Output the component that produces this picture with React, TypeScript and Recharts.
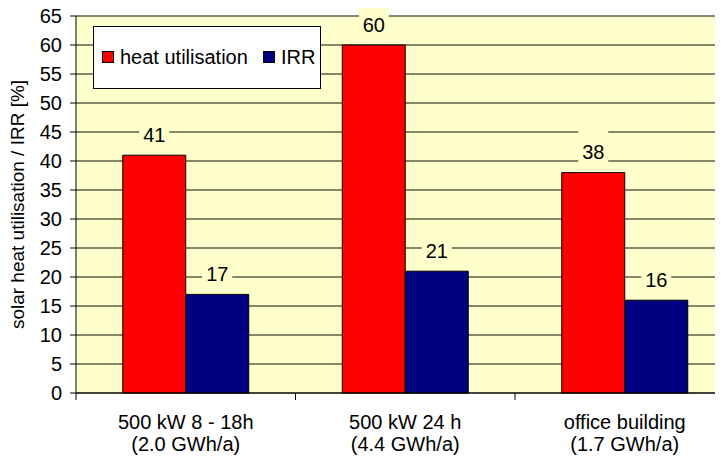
import React from 'react';
import { BarChart, Bar, XAxis, YAxis, CartesianGrid, LabelList } from 'recharts';

const categories = ['500 kW 8 - 18h\n(2.0 GWh/a)', '500 kW 24 h\n(4.4 GWh/a)', 'office building\n(1.7 GWh/a)'];
const heatUtilisation = [41, 60, 38];
const irr = [17, 21, 16];
const seriesNames = ['heat utilisation', 'IRR'];
const seriesColors = ['#FF0000', '#000080'];
const yTicks = [0, 5, 10, 15, 20, 25, 30, 35, 40, 45, 50, 55, 60, 65];
const yLabel = 'solar heat utilisation / IRR [%]';

const data = categories.map((c, i) => ({ name: c, heat: heatUtilisation[i], irr: irr[i] }));

const W = 750;
const H = 457;
const M = { top: 16, right: 15.5, bottom: 0, left: 0 };
const YAXIS_W = 76;
const XAXIS_H = 64;
const PLOT_W = W - M.left - M.right - YAXIS_W;
const BAND = PLOT_W / categories.length;
const FONT = 'Arial, "Liberation Sans", sans-serif';
const PLOT_BG = '#FFFFCC';

const XTick = (props: any) => {
  const { x, y, payload, index } = props;
  const lines = String(payload.value).split('\n');
  const half = BAND / 2;
  return (
    <g>
      {lines.map((l, i) => (
        <text key={i} x={x} y={y + 36 + 22 * i} textAnchor="middle" fontSize={20} fontFamily={FONT} fill="#000">
          {l}
        </text>
      ))}
      <line x1={x - half} x2={x - half} y1={y} y2={y + 7} stroke="#000" strokeWidth={1} />
      {index === categories.length - 1 && (
        <line x1={x + half} x2={x + half} y1={y} y2={y + 7} stroke="#000" strokeWidth={1} />
      )}
    </g>
  );
};

const YLabel = (props: any) => {
  const vb = props.viewBox || { x: 0, y: 0, width: 0, height: 0 };
  const cx = vb.x + 17;
  const cy = vb.y + vb.height / 2;
  return (
    <text x={cx} y={cy} transform={`rotate(-90 ${cx} ${cy})`} textAnchor="middle" dy="0.35em" fontSize={19} fontFamily={FONT} fill="#000">
      {yLabel}
    </text>
  );
};

const BarLabel = (props: any) => {
  const { x, y, width, value } = props;
  const cx = Number(x) + Number(width) / 2;
  const cy = Number(y) - 20.5;
  return (
    <g>
      <rect x={cx - 15} y={cy - 22} width={30} height={34} fill={PLOT_BG} />
      <text x={cx} y={cy} dy="0.35em" textAnchor="middle" fontSize={20} fontFamily={FONT} fill="#000">
        {value}
      </text>
    </g>
  );
};

export default function App() {
  return (
    <div style={{ position: 'relative', margin: '-8px 0 0 -8px', width: 723, height: 457, overflow: 'hidden', background: '#fff' }}>
      <BarChart width={W} height={H} data={data} margin={M} barCategoryGap="21.3%" barGap={0}>
        <CartesianGrid horizontal vertical={false} stroke="#5e5e48" strokeWidth={1.3} fill={PLOT_BG} fillOpacity={1} />
        <XAxis
          dataKey="name"
          height={XAXIS_H}
          interval={0}
          tickLine={false}
          tickSize={0}
          tickMargin={0}
          axisLine={{ stroke: '#000', strokeWidth: 1 }}
          tick={<XTick />}
        />
        <YAxis
          width={YAXIS_W}
          domain={[0, 65]}
          ticks={yTicks}
          interval={0}
          tickSize={6}
          tickMargin={8}
          axisLine={{ stroke: '#000', strokeWidth: 1 }}
          tickLine={{ stroke: '#000', strokeWidth: 1 }}
          tick={{ fontSize: 20, fontFamily: FONT, fill: '#000' }}
          label={<YLabel />}
        />
        <Bar dataKey="heat" name={seriesNames[0]} fill={seriesColors[0]} stroke="#000" strokeWidth={1} isAnimationActive={false}>
          <LabelList dataKey="heat" content={<BarLabel />} />
        </Bar>
        <Bar dataKey="irr" name={seriesNames[1]} fill={seriesColors[1]} stroke="#000" strokeWidth={1} isAnimationActive={false}>
          <LabelList dataKey="irr" content={<BarLabel />} />
        </Bar>
      </BarChart>
      <div
        style={{
          position: 'absolute',
          left: 93,
          top: 25.5,
          width: 228,
          height: 63,
          boxSizing: 'border-box',
          border: '1px solid #000',
          background: '#fff',
          display: 'flex',
          alignItems: 'center',
          fontFamily: FONT,
          fontSize: 20,
          color: '#000',
        }}
      >
        {seriesNames.map((n, i) => (
          <div key={n} style={{ display: 'flex', alignItems: 'center', marginLeft: i === 0 ? 8 : 15 }}>
            <div style={{ width: 12, height: 12, boxSizing: 'border-box', border: '1px solid #000', background: seriesColors[i], marginRight: 6 }} />
            <span style={{ lineHeight: '22px' }}>{n}</span>
          </div>
        ))}
      </div>
    </div>
  );
}
